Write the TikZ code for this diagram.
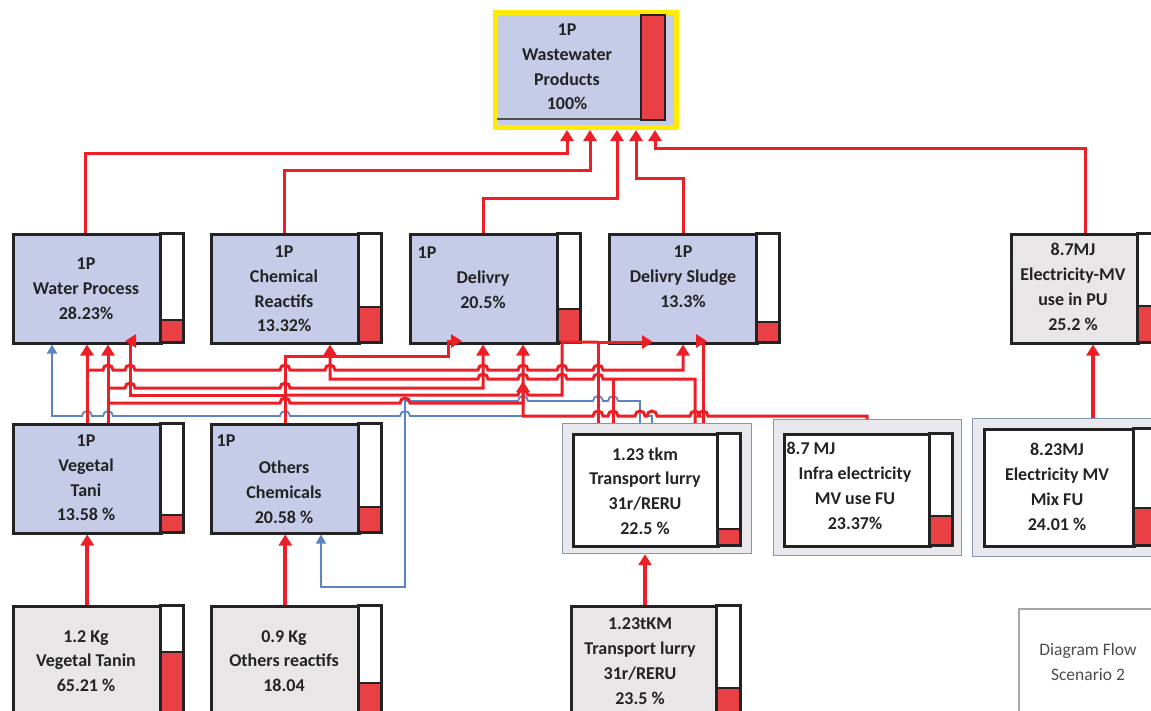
\documentclass[tikz,border=0pt]{standalone}
\usepackage{fontspec}
\setmainfont{Carlito}
\usetikzlibrary{arrows.meta}

\definecolor{cred}{RGB}{236,30,38}
\definecolor{cblue}{RGB}{92,132,196}
\definecolor{nblue}{RGB}{198,203,232}
\definecolor{ngray}{RGB}{232,230,230}
\definecolor{barred}{RGB}{232,64,68}
\definecolor{framefill}{RGB}{233,233,237}
\definecolor{frameline}{RGB}{135,148,182}
\definecolor{ylw}{RGB}{255,236,0}
\definecolor{ink}{RGB}{35,35,35}

\newcommand\lblfont{\fontsize{18}{24.8}\selectfont\bfseries}
\newcommand\dffont{\fontsize{17.5}{25}\selectfont}

% horizontal line jumping over a vertical one (rightward / leftward)
\newcommand\hopR[2]{-- ({#1-5},#2) arc[start angle=180,end angle=0,radius=5pt]}
\newcommand\hopL[2]{-- ({#1+5},#2) arc[start angle=0,end angle=180,radius=5pt]}

% value bar beside a process box: x1, ytop, x2, ybottom, top of red part
\newcommand\valbar[5]{%
  \fill[white] (#1,#2) rectangle (#3,#4);
  \fill[barred] (#1,#5) rectangle (#3,#4);
  \draw[ink, line width=1.6pt] (#1,#5) -- (#3,#5);
  \draw[ink, line width=3pt] (#1,#2) rectangle (#3,#4);
}

\tikzset{
  pbox/.style={draw=ink, line width=2.5pt, anchor=north west, inner sep=0pt, outer sep=1.25pt},
  framebox/.style={draw=frameline, fill=framefill, line width=1.3pt, anchor=north west, inner sep=0pt, outer sep=0.6pt},
  lbl/.style={align=center, font=\lblfont, text=ink, inner sep=0pt},
  dflbl/.style={align=center, font=\dffont, text=black!70, inner sep=0pt},
  rconn/.style={draw=cred, line width=3pt},
  thick conn/.style={draw=cred, line width=4pt},
  bconn/.style={draw=cblue, line width=1.8pt},
  rarr/.style={-{Triangle[length=11pt,width=13pt]}},
  barr/.style={-{Triangle[length=9pt,width=10pt]}}
}

\begin{document}
\begin{tikzpicture}[x=1pt,y=-1pt]
\useasboundingbox (0,0) rectangle (1151,710);
\clip (0,0) rectangle (1151,710);
\fill[white] (0,0) rectangle (1151,710);

% ---------- final product ----------
\node[draw=ylw, line width=5pt, fill=nblue, minimum width=181, minimum height=115,
      anchor=north west, inner sep=0pt, outer sep=2.5pt] (ww) at (493,10) {};
\draw[ink!80, line width=1.5pt] (497,119) -- (641,119);
\fill[barred] (641,15) rectangle (665,120);
\draw[ink, line width=2.5pt] (641,15) rectangle (665,120);
\node[lbl] (wwt) at (567,67) {1P\\Wastewater\\Products\\100\%};

% ---------- second row ----------
\node[pbox, fill=nblue, minimum width=148, minimum height=109] (wp) at (12,233) {};
\valbar{160}{233}{183}{342}{320}
\node[lbl] (wpt) at (86,289) {1P\\Water Process\\28.23\%};

\node[pbox, fill=nblue, minimum width=148, minimum height=109] (cr) at (210,233) {};
\valbar{358}{233}{381}{342}{307}
\node[lbl] (crt) at (284,289) {1P\\Chemical\\Reactifs\\13.32\%};

\node[pbox, fill=nblue, minimum width=148, minimum height=109] (del) at (409,233) {};
\valbar{557}{233}{580}{342}{309}
\node[lbl] (delp) at (427,253) {1P};
\node[lbl] (delt) at (483,290) {Delivry\\20.5\%};

\node[pbox, fill=nblue, minimum width=148, minimum height=109] (ds) at (608,233) {};
\valbar{756}{233}{779}{342}{322}
\node[lbl] (dst) at (683,277) {1P\\Delivry Sludge\\13.3\%};

\node[pbox, fill=ngray, minimum width=127, minimum height=109] (emv) at (1010,233) {};
\valbar{1137}{233}{1160}{342}{306}
\node[lbl] (emvt) at (1073,287) {8.7MJ\\Electricity-MV\\use in PU\\25.2 \%};

% ---------- third row ----------
\node[pbox, fill=nblue, minimum width=148, minimum height=109] (vt) at (12,423) {};
\valbar{160}{423}{183}{532}{515}
\node[lbl] (vtt) at (86,478) {1P\\Vegetal\\Tani\\13.58 \%};

\node[pbox, fill=nblue, minimum width=148, minimum height=109] (oc) at (210,423) {};
\valbar{358}{423}{381}{532}{507}
\node[lbl] (ocp) at (226,441) {1P};
\node[lbl] (oct) at (284,492) {Others\\Chemicals\\20.58 \%};

\node[framebox, minimum width=189, minimum height=130] (tlf) at (562,423) {};
\node[pbox, fill=white, minimum width=145, minimum height=112] (tl) at (572,433) {};
\valbar{717}{433}{740}{545}{529}
\node[lbl] (tlt) at (645,491) {1.23 tkm\\Transport lurry\\31r/RERU\\22.5 \%};

\node[framebox, minimum width=188, minimum height=136] (ief) at (773,419) {};
\node[pbox, fill=white, minimum width=146, minimum height=112] (ie) at (783,433) {};
\valbar{929}{433}{952}{545}{516}
\node[lbl] (iep) at (811,448) {8.7 MJ};
\node[lbl] (iet) at (855,498) {Infra electricity\\MV use FU\\23.37\%};

\node[framebox, minimum width=190, minimum height=138] (emf) at (972,418) {};
\node[pbox, fill=white, minimum width=150, minimum height=117] (em) at (983,428) {};
\valbar{1133}{428}{1156}{545}{508}
\node[lbl] (emt) at (1057,487) {8.23MJ\\Electricity MV\\Mix FU\\24.01 \%};

% ---------- bottom row ----------
\node[pbox, fill=ngray, minimum width=148, minimum height=120] (vtn) at (12,605) {};
\valbar{160}{605}{183}{725}{652}
\node[lbl] (vtnt) at (86,661) {1.2 Kg\\Vegetal Tanin\\65.21 \%};

\node[pbox, fill=ngray, minimum width=148, minimum height=120] (or) at (210,605) {};
\valbar{358}{605}{381}{725}{683}
\node[lbl] (ort) at (284,661) {0.9 Kg\\Others reactifs\\18.04};

\node[pbox, fill=ngray, minimum width=146, minimum height=120] (tl2) at (570,605) {};
\valbar{716}{605}{740}{725}{688}
\node[lbl] (tl2t) at (640,661) {1.23tKM\\Transport lurry\\31r/RERU\\23.5 \%};

\node[draw=black!35, line width=1.5pt, fill=white, minimum width=150, minimum height=120,
      anchor=north west] (df) at (1018,608) {};
\node[dflbl] (dft) at (1088,662) {Diagram Flow\\Scenario 2};

% ---------- links into the final product ----------
\draw[rconn,rarr] (85,0 |- wp.north) -- (85,153) -- (567,153) -- (567,0 |- ww.south);
\draw[rconn,rarr] (284,0 |- cr.north) -- (284,170) -- (590,170) -- (590,0 |- ww.south);
\draw[rconn,rarr] (483,0 |- del.north) -- (483,198) -- (617,198) -- (617,0 |- ww.south);
\draw[rconn,rarr] (683,0 |- ds.north) -- (683,178) -- (636,178) -- (636,0 |- ww.south);
\draw[rconn,rarr] (1085,0 |- emv.north) -- (1085,148) -- (655,148) -- (655,0 |- ww.south);

% ---------- blue links ----------
\draw[bconn,barr] (652,0 |- tlf.north) -- (652,416) \hopL{640}{416} \hopL{613}{416} \hopL{598}{416}
  \hopL{405}{416} \hopL{285}{416} \hopL{108}{416} \hopL{87}{416} -- (52,416) -- (52,0 |- wp.south);
\draw[bconn,barr] (640,0 |- tlf.north) -- (640,401) \hopL{613}{401} \hopL{598}{401} \hopL{523}{401}
  -- (405,401) -- (405,587) -- (321,587) -- (321,0 |- oc.south);

% ---------- red links between the rows ----------
\draw[rconn,rarr] (87,0 |- vt.north) -- (87,0 |- wp.south);
\draw[rconn,rarr] (108,0 |- vt.north) -- (108,0 |- wp.south);
\draw[rconn,rarr] (87,370) \hopR{108}{370} \hopR{130}{370} \hopR{285}{370} \hopR{330}{370}
  \hopR{483}{370} \hopR{523}{370} \hopR{562}{370} \hopR{598}{370} -- (683,370) -- (683,0 |- ds.south);
\draw[rconn,rarr] (108,388) \hopR{130}{388} \hopR{285}{388} -- (483,388) -- (483,0 |- del.south);
\draw[rconn,rarr] (108,403) \hopR{285}{403} \hopR{405}{403} -- (523,403) -- (523,381);
\draw[rconn,rarr] (867,0 |- ief.north) -- (867,416) \hopL{703}{416} \hopL{695}{416} \hopL{652}{416}
  \hopL{640}{416} \hopL{613}{416} \hopL{598}{416} -- (523,416) -- (523,0 |- del.south);
\draw[rconn,rarr] (285,0 |- oc.north) -- (285,356) -- (448,356) -- (448,341) -- (462,341);
\draw[rconn,rarr] (285,395) -- (130,395) -- (130,341) -- (125,341);
\draw[rconn] (285,395) \hopR{523}{395} -- (562,395) -- (562,342) -- (598,342);
\draw[rconn,rarr] (598,0 |- tlf.north) -- (598,342) -- (653,342);
\draw[rconn,rarr] (695,0 |- tlf.north) -- (695,379) \hopL{598}{379} \hopL{562}{379} \hopL{523}{379}
  \hopL{483}{379} -- (330,379) -- (330,0 |- cr.south);
\draw[rconn] (613,0 |- tlf.north) -- (613,379);
\draw[rconn,rarr] (703,0 |- tlf.north) -- (703,341) -- (707,341);

% ---------- inputs from below ----------
\draw[thick conn,rarr] (vtn.north) -- (vt.south);
\draw[thick conn,rarr] (or.north) -- (oc.south);
\draw[thick conn,rarr] (645,0 |- tl2.north) -- (645,0 |- tlf.south);
\draw[thick conn,rarr] (1093,0 |- emf.north) -- (1093,0 |- emv.south);
\end{tikzpicture}
\end{document}
